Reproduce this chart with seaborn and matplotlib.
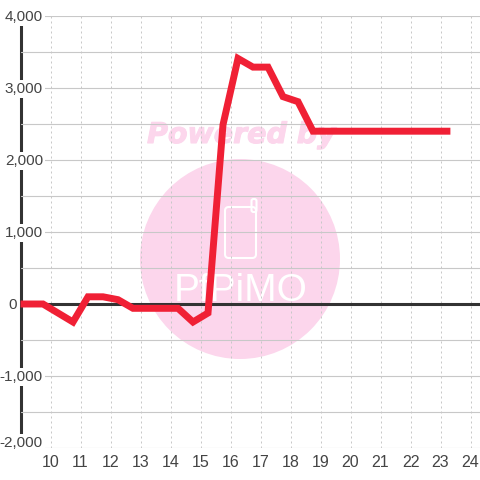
import matplotlib
matplotlib.use("Agg")
import matplotlib.pyplot as plt
import matplotlib.patheffects as pe
from matplotlib.patches import Ellipse, FancyBboxPatch
from matplotlib.ticker import FixedLocator
from matplotlib.transforms import blended_transform_factory, ScaledTranslation
import pandas as pd
import seaborn as sns

# half hour steps, the first point sits on the axis
hours = [9.0, 9.75, 10.75, 11.25, 11.75, 12.25, 12.75, 13.25, 13.75, 14.25, 14.75,
         15.25, 15.75, 16.25, 16.75, 17.25, 17.75, 18.25, 18.75, 19.25, 19.75,
         20.25, 20.75, 21.25, 21.75, 22.25, 22.75, 23.33]
values = [0, 0, -250, 100, 100, 60, -60, -60, -60, -60, -250,
          -125, 2490, 3410, 3290, 3290, 2880, 2810, 2400, 2400, 2400,
          2400, 2400, 2400, 2400, 2400, 2400, 2400]
x_ticks = list(range(10, 25))
y_ticks = [4000, 3000, 2000, 1000, 0, -1000, -2000]
y_minor = [3500, 2500, 1500, 500, -500, -1500]
y_labels = ["4,000", "3,000", "2,000", "1,000", "0", "-1,000", "-2,000"]

sns.set_theme(style="white", rc={"font.family": ["Liberation Sans", "DejaVu Sans"]})

PINK = "#fcd6ec"
GRID = "#c8c8c8"
INK = "#333333"

fig = plt.figure(figsize=(4.8, 4.8), dpi=100)
ax = fig.add_axes([20.5 / 480, 32 / 480, 459.5 / 480, 432 / 480])
ax.set_facecolor("none")


def fx(px):
    return px / 480


def fy(py):
    return 1 - py / 480


# watermark behind the axes
fig.add_artist(Ellipse((fx(240), fy(259)), 200 / 480, 200 / 480, color=PINK, lw=0,
                       transform=fig.transFigure, zorder=-5))
fig.text(fx(241.5), fy(135), "Powered by", color=PINK, fontsize=20.5, fontweight="bold",
         fontstyle="italic", family="DejaVu Sans", ha="center", va="center", zorder=-4,
         path_effects=[pe.withStroke(linewidth=0.8, foreground=PINK)])
fig.add_artist(FancyBboxPatch((fx(225), fy(258)), 31 / 480, 51 / 480,
                              boxstyle="round,pad=0,rounding_size=0.008",
                              fc="none", ec="white", lw=1.5,
                              transform=fig.transFigure, zorder=-4))
fig.add_artist(FancyBboxPatch((fx(251.5), fy(212)), 5 / 480, 13 / 480,
                              boxstyle="round,pad=0,rounding_size=0.004",
                              fc="none", ec="white", lw=1.5,
                              transform=fig.transFigure, zorder=-4))
fig.text(fx(241), fy(291), "PfPiMO", color="white", fontsize=28, fontweight="light",
         family="Liberation Sans", ha="center", va="center", zorder=-4)

df = pd.DataFrame({"hour": hours, "value": values})
sns.lineplot(data=df, x="hour", y="value", ax=ax, color="#f02035", linewidth=5.0,
             estimator=None, sort=False, zorder=5, solid_joinstyle="miter",
             solid_capstyle="butt", clip_on=False)

ax.set_xlim(10 - 30.0 / 30, 10 + 429.5 / 30)
ax.set_ylim(-2000, 4000)
ax.set_xlabel("")
ax.set_ylabel("")
ax.set_xticks(x_ticks)
ax.set_yticks(y_ticks)
ax.set_yticklabels([])
ax.yaxis.set_minor_locator(FixedLocator(y_minor))
ax.set_axisbelow(False)
ax.grid(True, axis="y", which="both", color=GRID, lw=0.8, ls="-")
ax.grid(True, axis="x", which="major", color=GRID, lw=0.72, ls=(0, (2, 3)))
ax.tick_params(axis="both", which="both", length=0)
ax.tick_params(axis="x", labelsize=11.5, labelcolor="#444444", pad=5)

for side in ["top", "right", "bottom"]:
    ax.spines[side].set_visible(False)
ax.spines["left"].set_color(INK)
ax.spines["left"].set_linewidth(2.2)
ax.spines["left"].set_zorder(2)

ax.axhline(0, color=INK, lw=2.2, zorder=3)

# y labels sit on top of the axis, on white boxes
trans = blended_transform_factory(fig.transFigure, ax.transData)
for tick, label in zip(y_ticks, y_labels):
    right = 17 if tick == 0 else 43
    shift = 5 if tick == -2000 else -1
    offset = ScaledTranslation(0, shift / 100, fig.dpi_scale_trans)
    ax.text(fx(right), tick, label, transform=trans + offset, ha="right", va="center",
            fontsize=11, color="#444444", zorder=4, clip_on=False,
            bbox=dict(fc="white", ec="none", pad=1.4))

fig.savefig("out.png", dpi=100)
